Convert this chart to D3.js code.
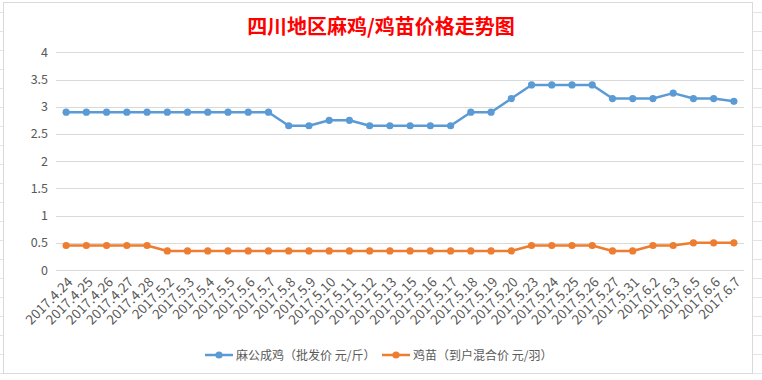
<!DOCTYPE html>
<html><head><meta charset="utf-8">
<script src="https://cdn.jsdelivr.net/npm/d3@7"></script>
<style>body{margin:0;background:#fff}svg{display:block}</style>
</head><body>
<script>
const categories = ["2017.4.24","2017.4.25","2017.4.26","2017.4.27","2017.4.28","2017.5.2","2017.5.3","2017.5.4","2017.5.5","2017.5.6","2017.5.7","2017.5.8","2017.5.9","2017.5.10","2017.5.11","2017.5.12","2017.5.13","2017.5.15","2017.5.16","2017.5.17","2017.5.18","2017.5.19","2017.5.20","2017.5.23","2017.5.24","2017.5.25","2017.5.26","2017.5.27","2017.5.31","2017.6.2","2017.6.3","2017.6.5","2017.6.6","2017.6.7"];
const henPrice = [2.9,2.9,2.9,2.9,2.9,2.9,2.9,2.9,2.9,2.9,2.9,2.65,2.65,2.75,2.75,2.65,2.65,2.65,2.65,2.65,2.9,2.9,3.15,3.4,3.4,3.4,3.4,3.15,3.15,3.15,3.25,3.15,3.15,3.1];
const chickPrice = [0.45,0.45,0.45,0.45,0.45,0.35,0.35,0.35,0.35,0.35,0.35,0.35,0.35,0.35,0.35,0.35,0.35,0.35,0.35,0.35,0.35,0.35,0.35,0.45,0.45,0.45,0.45,0.35,0.35,0.45,0.45,0.5,0.5,0.5];
const yTicks = [0,0.5,1,1.5,2,2.5,3,3.5,4];
const seriesNames = ["麻公成鸡（批发价 元/斤）","鸡苗（到户混合价 元/羽）"];
const title = "四川地区麻鸡/鸡苗价格走势图";

const W = 762, H = 380;
const svg = d3.select("body").append("svg").attr("width", W).attr("height", H);
const font = "'Microsoft YaHei','Noto Sans CJK SC','Noto Sans',sans-serif";

// faint spreadsheet cell lines outside chart
const cell = svg.append("g").attr("stroke", "#e4e4e4").attr("stroke-width", 1);
for (let y = 12; y < H; y += 19) {
  cell.append("line").attr("x1", 0).attr("x2", 3).attr("y1", y + 0.5).attr("y2", y + 0.5);
  cell.append("line").attr("x1", 753).attr("x2", W).attr("y1", y + 0.5).attr("y2", y + 0.5);
}
// chart frame
svg.append("rect").attr("x", 3.5).attr("y", 2.5).attr("width", 749).attr("height", 371)
  .attr("fill", "#fff").attr("stroke", "#d9d9d9");

const x = d3.scalePoint().domain(categories).range([56, 744]).padding(0.5);
const y = d3.scaleLinear().domain([0, 4]).range([270, 52.3]);

// gridlines
svg.append("g").selectAll("line").data(yTicks).join("line")
  .attr("x1", 56).attr("x2", 744)
  .attr("y1", d => Math.round(y(d)) + 0.5).attr("y2", d => Math.round(y(d)) + 0.5)
  .attr("stroke", "#d9d9d9").attr("stroke-width", 1);

// y axis labels
const yAxis = d3.axisLeft(y).tickValues(yTicks).tickSize(0).tickPadding(0).tickFormat(d3.format("~g"));
const ya = svg.append("g").attr("transform", "translate(48,0)").call(yAxis);
ya.select(".domain").remove();
ya.selectAll("text").attr("font-family", font).attr("font-size", 12.5).attr("fill", "#595959");

// x axis labels
const xAxis = d3.axisBottom(x).tickSize(0).tickPadding(0);
const xa = svg.append("g").attr("transform", "translate(0,270)").call(xAxis);
xa.select(".domain").remove();
xa.selectAll("text")
  .attr("font-family", font).attr("font-size", 13.5).attr("fill", "#595959")
  .attr("text-anchor", "end").attr("dy", 0).attr("y", 0)
  .attr("transform", "translate(7,13) rotate(-45)");

// lines
const series = [
  {name: seriesNames[0], values: henPrice, color: "#5B9BD5"},
  {name: seriesNames[1], values: chickPrice, color: "#ED7D31"}
];
const line = d3.line().x((d, i) => x(categories[i])).y(d => y(d));
series.forEach(s => {
  svg.append("path").datum(s.values).attr("d", line)
    .attr("fill", "none").attr("stroke", s.color).attr("stroke-width", 2.5)
    .attr("stroke-linejoin", "round");
  svg.append("g").selectAll("circle").data(s.values).join("circle")
    .attr("cx", (d, i) => x(categories[i])).attr("cy", d => y(d)).attr("r", 3.6)
    .attr("fill", s.color);
});

// title
svg.append("text").attr("x", 381).attr("y", 34).attr("text-anchor", "middle")
  .attr("font-family", font).attr("font-size", 20).attr("font-weight", "bold")
  .attr("fill", "#FF0000").text(title);

// legend
const legendPos = [205, 382];
series.forEach((s, i) => {
  const g = svg.append("g").attr("transform", `translate(${legendPos[i]},355)`);
  g.append("line").attr("x1", 0).attr("x2", 28).attr("stroke", s.color).attr("stroke-width", 2.5);
  g.append("circle").attr("cx", 14).attr("r", 3.6).attr("fill", s.color);
  g.append("text").attr("x", 31).attr("y", 4.5).attr("font-family", font).attr("font-size", 12)
    .attr("fill", "#595959").text(s.name);
});
</script>
</body></html>
